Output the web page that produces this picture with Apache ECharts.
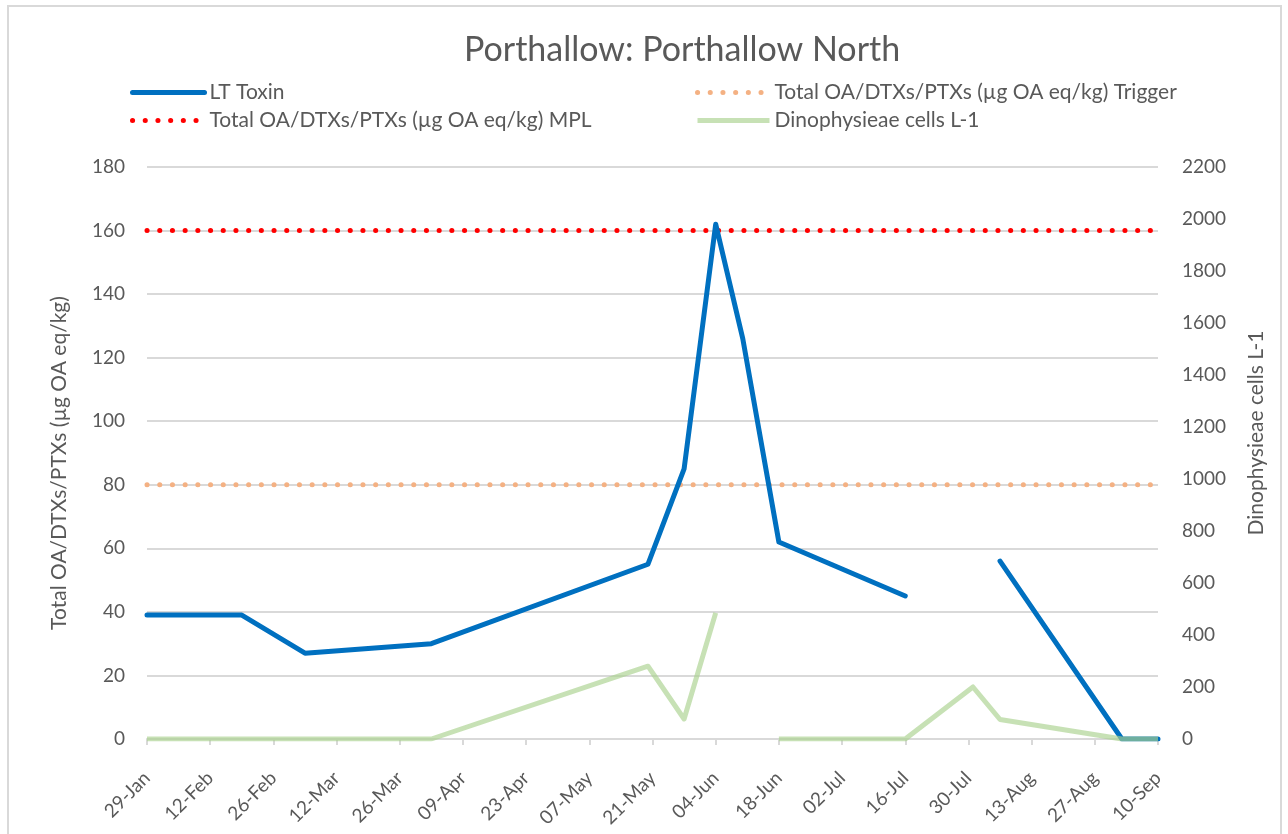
<!DOCTYPE html>
<html>
<head>
<meta charset="utf-8">
<title>Porthallow: Porthallow North</title>
<script src="https://cdn.jsdelivr.net/npm/echarts@6/dist/echarts.min.js"></script>
<style>
    html, body { margin: 0; padding: 0; background: #fff; }
    #chart { width: 1288px; height: 834px; }
    #frame {
        position: absolute; left: 7px; top: 5px; width: 1271px; height: 840px;
        border: 2px solid #d9d9d9; pointer-events: none;
    }
</style>
</head>
<body>
<div id="chart"></div>
<div id="frame"></div>
<script>
// sampling dates (2019) and values
const sampleDates = ['2019-01-29', '2019-02-19', '2019-03-05', '2019-04-02', '2019-05-20', '2019-05-28', '2019-06-04',
    '2019-06-10', '2019-06-18', '2019-07-16', '2019-07-31', '2019-08-06', '2019-09-02', '2019-09-10'];
const ltToxin = [39, 39, 27, 30, 55, 85, 162, 126, 62, 45, null, 56, 0, 0];
const dinoCells = [0, 0, 0, 0, 280, 77, 485, null, 0, 0, 200, 75, 0, 0];

const triggerLevel = 80;
const mplLevel = 160;

const axisStart = '2019-01-29';
const axisEnd = '2019-09-10';
const tickDays = 14;

const leftTicks = { min: 0, max: 180, step: 20 };
const rightTicks = { min: 0, max: 2200, step: 200 };

const MONTHS = ['Jan', 'Feb', 'Mar', 'Apr', 'May', 'Jun', 'Jul', 'Aug', 'Sep', 'Oct', 'Nov', 'Dec'];
const yearStart = Date.UTC(2019, 0, 1);
const DAY = 86400000;

// day number from 1 Jan (29-Jan -> 28, a multiple of 14)
function dayNum(s) {
    return Math.round((Date.parse(s) - yearStart) / DAY);
}
function dayLabel(v) {
    const d = new Date(yearStart + v * DAY);
    const dd = String(d.getUTCDate()).padStart(2, '0');
    return dd + '-' + MONTHS[d.getUTCMonth()];
}

const FONT = 'Lato';
const GREY = '#595959';

const xMin = dayNum(axisStart);
const xMax = dayNum(axisEnd);
const toxinData = sampleDates.map((d, i) => [dayNum(d), ltToxin[i]]);
const cellData = sampleDates.map((d, i) => [dayNum(d), dinoCells[i]]);

const myChart = echarts.init(document.getElementById('chart'));

const dotted = (color) => ({ color: color, width: 5, type: [0.1, 12.6], cap: 'round' });

const legendCommon = {
    orient: 'vertical', top: 77,
    itemWidth: 72, itemHeight: 14, itemGap: 7,
    itemStyle: { opacity: 0 },      // hide the symbol, keep the line
    lineStyle: { width: 5 },
    textStyle: { fontFamily: FONT, fontSize: 21, color: GREY }
};

const option = {
    animation: false,
    textStyle: { fontFamily: FONT },
    title: {
        text: 'Porthallow: Porthallow North',
        left: 459,
        top: 28,
        textStyle: { fontFamily: FONT, fontSize: 34, fontWeight: 'normal', color: GREY }
    },
    legend: [
        Object.assign({ data: ['LT Toxin', 'Total OA/DTXs/PTXs (µg OA eq/kg) MPL'], left: 125 }, legendCommon),
        Object.assign({ data: ['Total OA/DTXs/PTXs (µg OA eq/kg) Trigger', 'Dinophysieae cells L-1'], left: 690 }, legendCommon)
    ],
    grid: { left: 147, right: 130, top: 167, bottom: 95 },
    xAxis: {
        type: 'value',
        min: xMin, max: xMax, interval: tickDays,
        axisLine: { show: true, lineStyle: { color: '#d9d9d9', width: 2 } },
        axisTick: { show: true, length: 6, lineStyle: { color: '#d9d9d9', width: 2 } },
        splitLine: { show: false },
        axisLabel: {
            rotate: 45, margin: 36, fontSize: 19, color: GREY, fontFamily: FONT,
            formatter: dayLabel
        }
    },
    yAxis: [
        {
            type: 'value',
            min: leftTicks.min, max: leftTicks.max, interval: leftTicks.step,
            name: 'Total OA/DTXs/PTXs (µg OA eq/kg)',
            nameLocation: 'middle', nameGap: 77,
            nameTextStyle: { fontFamily: FONT, fontSize: 21, color: GREY, padding: [0, 20, 0, 0] },
            axisLine: { show: false },
            axisTick: { show: false },
            splitLine: { lineStyle: { color: '#d9d9d9', width: 2 } },
            axisLabel: { margin: 22, fontSize: 19, color: GREY, fontFamily: FONT }
        },
        {
            type: 'value',
            position: 'right',
            min: rightTicks.min, max: rightTicks.max, interval: rightTicks.step,
            name: 'Dinophysieae cells L-1',
            nameLocation: 'middle', nameGap: 88, nameRotate: 90,
            nameTextStyle: { fontFamily: FONT, fontSize: 21, color: GREY, padding: [0, 0, 0, 40] },
            axisLine: { show: false },
            axisTick: { show: false },
            splitLine: { show: false },
            axisLabel: { margin: 24, fontSize: 19, color: GREY, fontFamily: FONT, formatter: (v) => String(v) }
        }
    ],
    series: [
        {
            name: 'LT Toxin',
            type: 'line',
            data: toxinData,
            symbol: 'none',
            lineStyle: { color: '#0070c0', width: 5, cap: 'round', join: 'round' },
            itemStyle: { color: '#0070c0' },
            z: 3
        },
        {
            name: 'Total OA/DTXs/PTXs (µg OA eq/kg) Trigger',
            type: 'line',
            data: [[xMin, triggerLevel], [xMax, triggerLevel]],
            symbol: 'none',
            lineStyle: dotted('#f4b183'),
            itemStyle: { color: '#f4b183' },
            z: 2
        },
        {
            name: 'Total OA/DTXs/PTXs (µg OA eq/kg) MPL',
            type: 'line',
            data: [[xMin, mplLevel], [xMax, mplLevel]],
            symbol: 'none',
            lineStyle: dotted('#ff0000'),
            itemStyle: { color: '#ff0000' },
            z: 2
        },
        {
            name: 'Dinophysieae cells L-1',
            type: 'line',
            yAxisIndex: 1,
            data: cellData,
            symbol: 'none',
            lineStyle: { color: 'rgba(169,209,142,0.65)', width: 5, join: 'round' },
            itemStyle: { color: 'rgba(169,209,142,0.65)' },
            z: 4
        }
    ]
};

myChart.setOption(option);
</script>
</body>
</html>
